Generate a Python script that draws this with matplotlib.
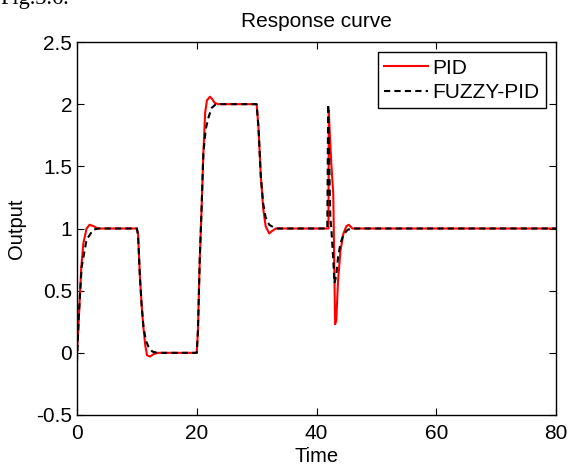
#!/usr/bin/env python3
# -*- coding: utf-8 -*-
"""Response curve of PID vs FUZZY-PID controller."""
import matplotlib
matplotlib.use("Agg")
import matplotlib.pyplot as plt

# PID response
pid_t = [0.0, 0.3, 0.7, 1.06, 1.6, 2.1, 2.7, 3.5, 10.0,
         10.2, 10.5, 10.8, 11.1, 11.4, 11.7, 12.2, 12.8, 13.5, 20.0,
         20.2, 20.5, 20.8, 21.1, 21.4, 21.7, 22.2, 22.6, 23.0, 23.6, 30.0,
         30.3, 30.7, 31.1, 31.5, 32.1, 32.6, 33.2, 42.0,
         42.05, 42.2, 42.5, 42.8, 43.0, 43.1, 43.3, 43.6, 44.0, 44.5,
         45.0, 45.4, 46.0, 80.0]
pid_y = [0.0, 0.27, 0.68, 0.88, 1.0, 1.03, 1.02, 1.0, 1.0,
         0.95, 0.62, 0.38, 0.2, 0.06, -0.02, -0.03, -0.01, 0.0, 0.0,
         0.18, 0.75, 1.15, 1.6, 1.93, 2.03, 2.06, 2.04, 2.01, 2.0, 2.0,
         1.82, 1.42, 1.16, 1.02, 0.96, 0.98, 1.0, 1.0,
         1.95, 1.78, 1.5, 1.28, 0.6, 0.23, 0.26, 0.58, 0.82, 0.96,
         1.02, 1.03, 1.0, 1.0]

# FUZZY-PID response
fuzzy_t = [0.0, 0.3, 0.78, 1.6, 2.7, 3.5, 10.0,
           10.2, 10.5, 10.8, 11.1, 11.5, 12.0, 12.6, 13.4, 20.0,
           20.2, 20.5, 20.8, 21.1, 21.5, 22.0, 22.5, 23.2, 30.0,
           30.3, 30.7, 31.1, 31.5, 32.1, 32.8, 33.5, 41.8,
           41.95, 42.1, 42.3, 42.5, 42.8, 43.0, 43.3, 43.6, 44.0, 44.5,
           45.2, 46.0, 80.0]
fuzzy_y = [-0.07, 0.3, 0.69, 0.91, 0.99, 1.0, 1.0,
           0.95, 0.62, 0.38, 0.21, 0.1, 0.04, 0.01, 0.0, 0.0,
           0.18, 0.75, 1.15, 1.6, 1.8, 1.9, 1.97, 2.0, 2.0,
           1.82, 1.42, 1.2, 1.09, 1.03, 1.01, 1.0, 1.0,
           2.0, 1.6, 1.1, 0.98, 0.75, 0.56, 0.62, 0.77, 0.88, 0.95,
           0.99, 1.0, 1.0]

x_ticks = [0, 20, 40, 60, 80]
y_ticks = [-0.5, 0, 0.5, 1, 1.5, 2, 2.5]
y_tick_labels = ["-0.5", "0", "0.5", "1", "1.5", "2", "2.5"]

plt.rcParams["font.family"] = ["Liberation Sans", "DejaVu Sans"]

fig = plt.figure(figsize=(5.69, 4.66), dpi=100)
axe = fig.add_axes([77 / 569, 1 - 415 / 466, (556 - 77) / 569, (415 - 42) / 466])

axe.plot(pid_t, pid_y, color="#ff0000", linewidth=1.5, label="PID")
axe.plot(fuzzy_t, fuzzy_y, color="black", linestyle=(0, (3, 2)),
         linewidth=1.5, label="FUZZY-PID")

axe.set_xlim(0, 80)
axe.set_ylim(-0.5, 2.5)
axe.set_xticks(x_ticks)
axe.set_yticks(y_ticks)
axe.set_yticklabels(y_tick_labels)
axe.tick_params(direction="in", top=True, right=True, length=5,
                width=0.8, labelsize=15)
axe.tick_params(axis="x", pad=6.5)
axe.tick_params(axis="y", pad=3.5)
for spine in axe.spines.values():
    spine.set_linewidth(1.0)

axe.set_xlabel("Time", fontsize=14.5, labelpad=3)
axe.set_ylabel("Output", fontsize=14.5, labelpad=7)
axe.set_title("Response curve", fontsize=15, pad=11)

leg = axe.legend(loc="upper right", fontsize=15, fancybox=False,
                 framealpha=1, edgecolor="black", borderpad=0.3,
                 handlelength=2.1, handletextpad=0.2, labelspacing=0.25,
                 borderaxespad=0.5)
leg.get_frame().set_linewidth(1.0)

# caption of the page, mostly cut off at the top edge
fig.text(0.0, 0.992, "Fig.3.6.", family="Liberation Serif", fontsize=16,
         va="baseline", ha="left")

fig.savefig("out.png", dpi=100)
